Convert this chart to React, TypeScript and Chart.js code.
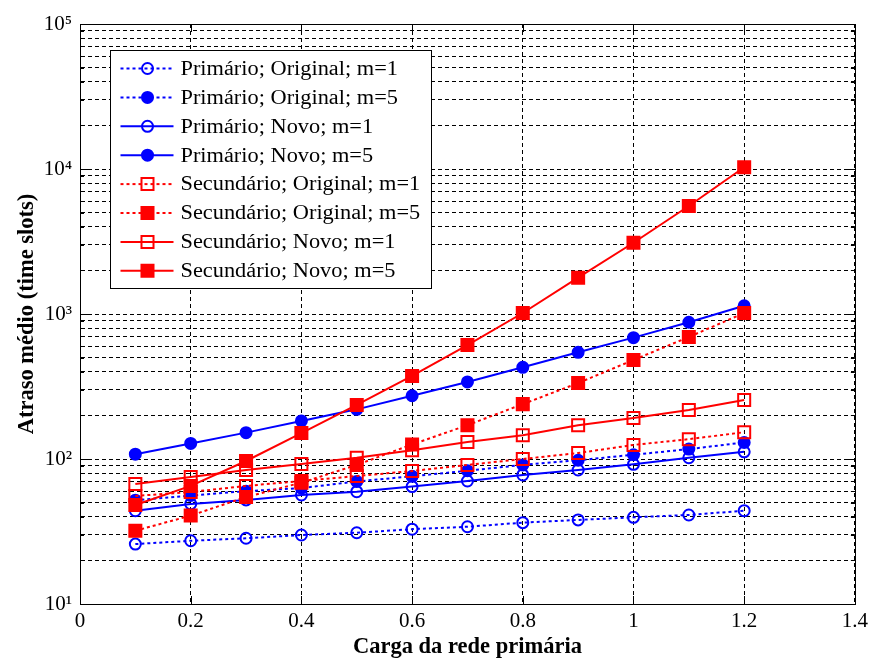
import React, { useEffect, useRef } from 'react';
import { Chart, registerables } from 'chart.js';

Chart.register(...registerables);

// ---------------- data ----------------
const loads = [0.1, 0.2, 0.3, 0.4, 0.5, 0.6, 0.7, 0.8, 0.9, 1.0, 1.1, 1.2];

const primOrigM1 = [25.9, 27.3, 28.4, 29.9, 31.0, 32.8, 34.1, 36.4, 38.0, 39.6, 41.1, 44.0];
const primOrigM5 = [52, 56, 60, 63, 70, 76, 83, 91, 98, 107, 117, 130];
const primNovoM1 = [44, 49, 52.2, 56.5, 59.5, 64.5, 70.5, 77.6, 84, 91.9, 102, 112];
const primNovoM5 = [108, 128, 152, 183, 220, 273, 340, 429, 544, 687, 877, 1140];
const secOrigM1 = [55.6, 59.2, 65.2, 70.5, 76.3, 82.6, 91, 100, 110, 125, 137, 153];
const secOrigM5 = [32.0, 40.7, 54.7, 68.7, 91, 126, 171, 239, 334, 482, 694, 1016];
const secNovoM1 = [67.2, 75, 84, 92.4, 102, 115, 131, 146, 171, 192, 218, 255];
const secNovoM5 = [48.2, 65.2, 96.9, 151, 236, 374, 611, 1016, 1780, 3100, 5560, 10280];

const seriesLabels = [
  'Primário; Original; m=1',
  'Primário; Original; m=5',
  'Primário; Novo; m=1',
  'Primário; Novo; m=5',
  'Secundário; Original; m=1',
  'Secundário; Original; m=5',
  'Secundário; Novo; m=1',
  'Secundário; Novo; m=5',
];
const seriesValues = [primOrigM1, primOrigM5, primNovoM1, primNovoM5, secOrigM1, secOrigM5, secNovoM1, secNovoM5];

const xTickValues = [0, 0.2, 0.4, 0.6, 0.8, 1.0, 1.2, 1.4];
const xTickLabels = ['0', '0.2', '0.4', '0.6', '0.8', '1', '1.2', '1.4'];
const yDecades = [10, 100, 1000, 10000, 100000];
const yTickLabels = ['10¹', '10²', '10³', '10⁴', '10⁵'];

const xTitle = 'Carga da rede primária';
const yTitle = 'Atraso médio (time slots)';

// ---------------- styles ----------------
const BLUE = '#0000ff';
const RED = '#ff0000';
const DOT = [3, 3];
const seriesStyles = [
  { color: BLUE, dash: DOT, shape: 'circle', filled: false },
  { color: BLUE, dash: DOT, shape: 'circle', filled: true },
  { color: BLUE, dash: [], shape: 'circle', filled: false },
  { color: BLUE, dash: [], shape: 'circle', filled: true },
  { color: RED, dash: DOT, shape: 'rect', filled: false },
  { color: RED, dash: DOT, shape: 'rect', filled: true },
  { color: RED, dash: [], shape: 'rect', filled: false },
  { color: RED, dash: [], shape: 'rect', filled: true },
];

const FONT = "'Liberation Serif', 'Times New Roman', serif";

// minor grid values for the log axis (1..9 x each decade)
const yGridValues: number[] = [];
yDecades.forEach((d, i) => {
  if (i === yDecades.length - 1) { yGridValues.push(d); return; }
  for (let k = 1; k <= 9; k++) yGridValues.push(d * k);
});

function drawMarker(ctx: CanvasRenderingContext2D, shape: string, filled: boolean, color: string, x: number, y: number) {
  ctx.save();
  ctx.setLineDash([]);
  ctx.lineWidth = 2;
  ctx.strokeStyle = color;
  ctx.fillStyle = color;
  ctx.beginPath();
  if (shape === 'circle') {
    ctx.arc(x, y, 5.5, 0, Math.PI * 2);
  } else {
    const s = 8.5 * Math.SQRT1_2;
    ctx.rect(x - s, y - s, 2 * s, 2 * s);
  }
  if (filled) ctx.fill();
  ctx.stroke();
  ctx.restore();
}

const framePlugin = {
  id: 'frameAndLegend',
  afterDraw(chart: any) {
    const { ctx, chartArea: a, scales } = chart;
    const xs = scales.x;
    const ys = scales.y;
    ctx.save();
    ctx.setLineDash([]);
    ctx.strokeStyle = '#000';
    ctx.lineWidth = 1;
    ctx.beginPath();
    xs.ticks.forEach((t: any) => {
      const px = Math.round(xs.getPixelForValue(t.value)) + 0.5;
      ctx.moveTo(px, a.bottom); ctx.lineTo(px, a.bottom - 8);
      ctx.moveTo(px, a.top); ctx.lineTo(px, a.top + 8);
    });
    ys.ticks.forEach((t: any) => {
      const len = yDecades.includes(t.value) ? 8 : 4;
      const py = Math.round(ys.getPixelForValue(t.value)) + 0.5;
      ctx.moveTo(a.left, py); ctx.lineTo(a.left + len, py);
      ctx.moveTo(a.right, py); ctx.lineTo(a.right - len, py);
    });
    ctx.stroke();
    ctx.strokeRect(Math.round(a.left) + 0.5, Math.round(a.top) + 0.5, Math.round(a.right - a.left), Math.round(a.bottom - a.top));

    // legend box
    const bx = Math.round(a.left) + 30.5;
    const by = Math.round(a.top) + 26.5;
    const bw = 321;
    const bh = 238;
    ctx.fillStyle = '#fff';
    ctx.fillRect(bx, by, bw, bh);
    ctx.strokeStyle = '#000';
    ctx.lineWidth = 1;
    ctx.strokeRect(bx, by, bw, bh);
    ctx.font = `20.5px ${FONT}`;
    ctx.textBaseline = 'middle';
    ctx.textAlign = 'left';
    chart.data.datasets.forEach((ds: any, i: number) => {
      const st = seriesStyles[i];
      const ry = by + 18 + i * 28.9;
      ctx.save();
      ctx.strokeStyle = st.color;
      ctx.lineWidth = 2;
      ctx.setLineDash(st.dash);
      ctx.beginPath();
      ctx.moveTo(bx + 10, ry);
      ctx.lineTo(bx + 63, ry);
      ctx.stroke();
      ctx.restore();
      drawMarker(ctx, st.shape, st.filled, st.color, bx + 37, ry);
      ctx.save();
      ctx.fillStyle = '#000';
      ctx.translate(bx + 70, ry + 1);
      ctx.scale(1.09, 1);
      ctx.fillText(ds.label, 0, 0);
      ctx.restore();
    });
    ctx.restore();
  },
};

export default function App() {
  const ref = useRef<HTMLCanvasElement>(null);
  useEffect(() => {
    const datasets = seriesValues.map((vals, i) => {
      const st = seriesStyles[i];
      return {
        label: seriesLabels[i],
        data: loads.map((x, j) => ({ x, y: vals[j] })),
        borderColor: st.color,
        backgroundColor: st.filled ? st.color : 'rgba(0,0,0,0)',
        borderWidth: 2,
        borderDash: st.dash,
        pointStyle: st.shape,
        pointRadius: st.shape === 'circle' ? 5.5 : 8.5,
        pointBorderWidth: 2,
        pointBorderColor: st.color,
        pointBackgroundColor: st.filled ? st.color : 'rgba(0,0,0,0)',
        tension: 0,
        fill: false,
        order: seriesValues.length - i,
      };
    });
    const chart = new Chart(ref.current as HTMLCanvasElement, {
      type: 'line',
      data: { datasets } as any,
      options: {
        animation: false,
        responsive: false,
        devicePixelRatio: 1,
        layout: { padding: { top: 24, right: 16, left: 0, bottom: 0 } },
        plugins: { legend: { display: false }, tooltip: { enabled: false } },
        scales: {
          x: {
            type: 'linear',
            min: 0,
            max: 1.4,
            afterBuildTicks: (s: any) => { s.ticks = xTickValues.map((v) => ({ value: v })); },
            afterFit: (s: any) => { s.height = 60; },
            ticks: {
              autoSkip: false,
              maxRotation: 0,
              padding: 5,
              color: '#000',
              font: { family: FONT, size: 21 },
              callback: (_v: any, i: number) => xTickLabels[i],
            },
            grid: { color: '#000', lineWidth: 1, drawTicks: false },
            border: { display: true, color: '#000', width: 1, dash: [4, 3] },
            title: {
              display: true,
              text: xTitle,
              color: '#000',
              font: { family: FONT, size: 22.5, weight: 'bold' },
              padding: { top: 0, bottom: 3 },
            },
          },
          y: {
            type: 'logarithmic',
            min: 10,
            max: 100000,
            afterBuildTicks: (s: any) => { s.ticks = yGridValues.map((v) => ({ value: v })); },
            afterFit: (s: any) => { s.width = 80; },
            ticks: {
              autoSkip: false,
              padding: 8,
              color: '#000',
              font: { family: FONT, size: 21 },
              callback: (v: any) => {
                const k = yDecades.indexOf(Number(v));
                return k >= 0 ? yTickLabels[k] : '';
              },
            },
            grid: { color: '#000', lineWidth: 1, drawTicks: false },
            border: { display: true, color: '#000', width: 1, dash: [4, 3] },
            title: {
              display: true,
              text: yTitle,
              color: '#000',
              font: { family: FONT, size: 22.5, weight: 'bold' },
              padding: { top: 14, bottom: 0 },
            },
          },
        },
      } as any,
      plugins: [framePlugin],
    });
    return () => chart.destroy();
  }, []);
  return (
    <div style={{ position: 'absolute', left: 0, top: 0, width: 873, height: 664, background: '#fff' }}>
      <canvas ref={ref} width={873} height={664} style={{ display: 'block', width: 873, height: 664 }} />
    </div>
  );
}
